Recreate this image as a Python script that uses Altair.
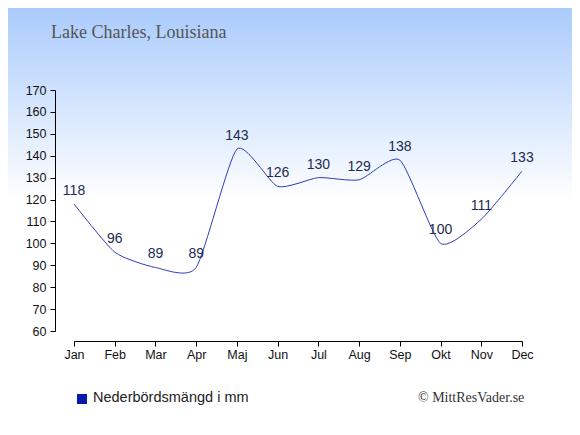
import altair as alt
import pandas as pd

months = ["Jan", "Feb", "Mar", "Apr", "Maj", "Jun", "Jul", "Aug", "Sep", "Okt", "Nov", "Dec"]
rain_mm = [118, 96, 89, 89, 143, 126, 130, 129, 138, 100, 111, 133]
y_ticks = list(range(60, 171, 10))
title_text = "Lake Charles, Louisiana"
legend_text = "Nederbördsmängd i mm"
credit_text = "© MittResVader.se"

df = pd.DataFrame({"month": months, "rain": rain_mm})

W, H = 448, 241
PL, PT = 66, 82
PR = 564 - PL - W
PB = 419 - PT - H

one = alt.Data(values=[{}])

x_enc = alt.X("month:N", sort=months, scale=alt.Scale(type="point", padding=0),
              axis=alt.Axis(title=None, offset=10, tickSize=5, labelPadding=2, labelAngle=0,
                            labelFontSize=12.5, labelFont="Liberation Sans", labelColor="#111",
                            domainColor="#000", tickColor="#000", grid=False, zindex=1,
                            labelOverlap=False))
y_enc = alt.Y("rain:Q", scale=alt.Scale(domain=[60, 170], nice=False, zero=False),
              axis=alt.Axis(title=None, offset=19, values=y_ticks, tickCount=12, tickSize=5,
                            labelPadding=4, labelFontSize=12.5, labelFont="Liberation Sans",
                            labelColor="#111", domainColor="#000", tickColor="#000", grid=False,
                            zindex=1, labelOverlap=False, labelBound=False, labelFlush=False))

grad = alt.LinearGradient(
    gradient="linear", x1=0, y1=0, x2=0, y2=1,
    stops=[alt.GradientStop(color="#aacbfc", offset=0),
           alt.GradientStop(color="#ffffff", offset=0.46),
           alt.GradientStop(color="#ffffff", offset=1)])

bg = alt.Chart(one).mark_rect(color=grad).encode(
    x=alt.value(-PL), x2=alt.value(W + PR), y=alt.value(-PT), y2=alt.value(H + PB))

base = alt.Chart(df)
line = base.mark_line(color="#2d3db8", strokeWidth=1, interpolate="cardinal", tension=0.4).encode(
    x=x_enc, y=y_enc)
labels = base.mark_text(dy=-13, baseline="middle", align="center", fontSize=14,
                        font="Liberation Sans", color="#1c2b50").encode(
    x=x_enc, y=y_enc, text=alt.Text("rain:Q"))

title = alt.Chart(one).mark_text(text=title_text, align="left", baseline="alphabetic",
                                 font="Liberation Serif", fontSize=18, color="#555").encode(
    x=alt.value(-23), y=alt.value(-52))
leg_sq = alt.Chart(one).mark_square(size=100, color="#0a1aaa", opacity=1).encode(
    x=alt.value(8), y=alt.value(309))
leg_tx = alt.Chart(one).mark_text(text=legend_text, align="left", baseline="middle",
                                  font="Liberation Sans", fontSize=14.5, color="#222").encode(
    x=alt.value(19), y=alt.value(308))
credit = alt.Chart(one).mark_text(text=credit_text, align="left", baseline="middle",
                                  font="Liberation Serif", fontSize=14, color="#333").encode(
    x=alt.value(344), y=alt.value(308))

chart = alt.layer(bg, line, labels, title, leg_sq, leg_tx, credit).properties(
    width=W, height=H, autosize="none",
    padding={"left": PL, "top": PT, "right": PR, "bottom": PB},
).configure_view(strokeWidth=0).configure(background="white")

chart.save("out.html", embed_options={"renderer": "svg", "actions": False})
